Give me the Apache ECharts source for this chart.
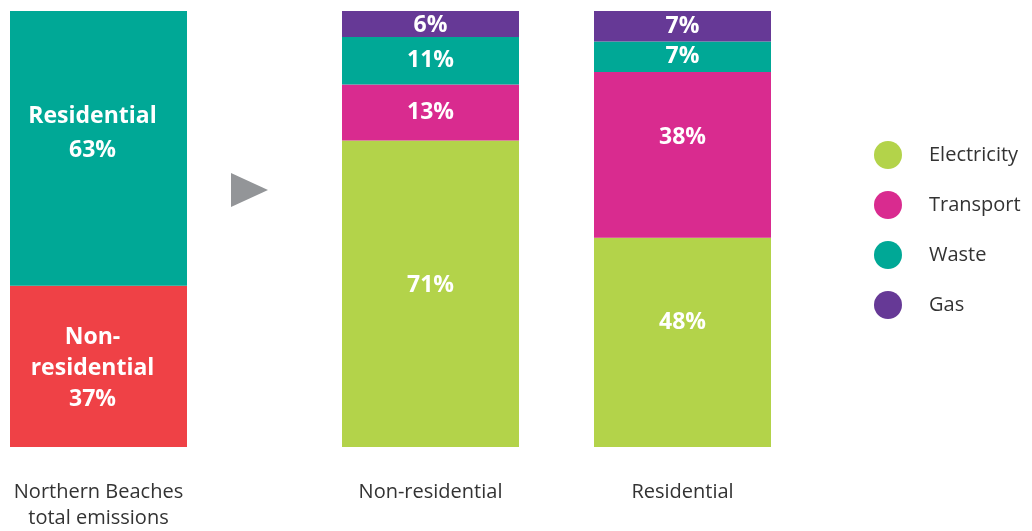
<!DOCTYPE html>
<html>
<head>
<meta charset="utf-8">
<script src="https://cdn.jsdelivr.net/npm/echarts@6/dist/echarts.min.js"></script>
<style>html,body{margin:0;padding:0;background:#fff}#c{width:1032px;height:531px}</style>
</head>
<body>
<div id="c"></div>
<script>
// ---- data ----
var barLabels = ['Northern Beaches\ntotal emissions', 'Non-residential', 'Residential'];
var totalSectors = ['Non-residential', 'Residential'];
var totalValues = [37, 63];
var sources = ['Electricity', 'Transport', 'Waste', 'Gas'];
var nonResValues = [71, 13, 11, 6];
var resValues = [48, 38, 7, 7];

// ---- styles ----
var totalColors = ['#EF4146', '#00A896'];
var sourceColors = ['#B3D34A', '#D92B8F', '#00A896', '#663996'];
var font = '"Open Sans", "Noto Sans", sans-serif';
var gridLefts = [10, 342, 594];
var barW = 177;
var totalLabelOffsets = [[-6, 2], [-6, -15]];
var sourceLabelOffsets = [[[0, -8], [0, 0], [0, 0], [0, 2]], [[0, -20], [0, -17], [0, 0], [0, 0]]];

function sum(a){return a.reduce(function(s,v){return s+v;},0);}
var sets = [totalValues, nonResValues, resValues];

var grids = [], xAxes = [], yAxes = [], series = [];
for (var g = 0; g < 3; g++) {
  grids.push({left: gridLefts[g], width: barW, top: 11, bottom: 84});
  xAxes.push({
    type: 'category', gridIndex: g, data: [barLabels[g]],
    axisLine: {show: false}, axisTick: {show: false},
    axisLabel: {color: '#333', fontFamily: font, fontSize: 20, lineHeight: 26, margin: 32}
  });
  yAxes.push({type: 'value', gridIndex: g, min: 0, max: sum(sets[g]), show: false, splitLine: {show: false}});
}

var labelBase = {show: true, position: 'inside', color: '#fff', fontFamily: font, fontWeight: 'bold', fontSize: 23, lineHeight: 32};

totalSectors.forEach(function(name, i) {
  series.push({
    name: name, type: 'bar', stack: 'total', xAxisIndex: 0, yAxisIndex: 0,
    barWidth: '100%', itemStyle: {color: totalColors[i]},
    label: Object.assign({}, labelBase, {
      formatter: function(p){ return (p.seriesName === 'Non-residential' ? 'Non-\nresidential' : p.seriesName) + '\n' + p.value + '%'; },
      lineHeight: i === 0 ? 31 : 34,
      offset: totalLabelOffsets[i]
    }),
    data: [totalValues[i]]
  });
});

[nonResValues, resValues].forEach(function(vals, k) {
  sources.forEach(function(name, i) {
    series.push({
      name: name, type: 'bar', stack: 's' + k, xAxisIndex: k + 1, yAxisIndex: k + 1,
      barWidth: '100%', itemStyle: {color: sourceColors[i]},
      label: Object.assign({}, labelBase, {formatter: '{c}%', offset: sourceLabelOffsets[k][i]}),
      data: [vals[i]]
    });
  });
});

var chart = echarts.init(document.getElementById('c'));
chart.setOption({
  animation: false,
  grid: grids, xAxis: xAxes, yAxis: yAxes, series: series,
  color: sourceColors,
  legend: {
    data: sources.map(function(s, i){ return {name: s, itemStyle: {color: sourceColors[i]}}; }),
    orient: 'vertical', left: 874, top: 141, padding: 0,
    icon: 'circle', itemWidth: 28, itemHeight: 28, itemGap: 22,
    textStyle: {color: '#333', fontFamily: font, fontSize: 20, padding: [0, 0, 0, 22]}
  },
  graphic: [{
    type: 'polygon', shape: {points: [[231, 173], [268, 190], [231, 207]]},
    style: {fill: '#939598'}
  }]
});
</script>
</body>
</html>
